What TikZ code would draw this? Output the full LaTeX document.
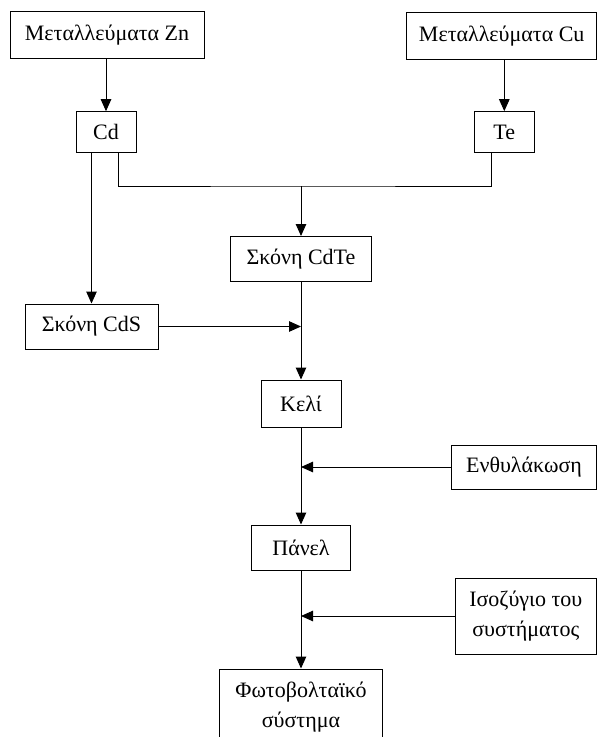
\documentclass[tikz,border=0pt]{standalone}
\usepackage{fontspec}
\setmainfont{Liberation Serif}
\usetikzlibrary{arrows.meta}

\begin{document}
\begin{tikzpicture}[x=1pt,y=-1pt,
			line width=1pt,
			>={Triangle[length=12pt,width=10.5pt]},
			box/.style={draw,inner sep=0pt,align=center,minimum height=45pt}]
\fontsize{22}{30}\selectfont
\useasboundingbox (0,0) rectangle (597,737);
%% raw materials
\node[box,minimum width=194pt,minimum height=46.6pt] (Zn) at (107,35) {Μεταλλεύματα Zn};
\node[box,minimum width=189.5pt,minimum height=46.6pt] (Cu) at (501.7,36) {Μεταλλεύματα Cu};
\node[box,minimum width=60pt,minimum height=40.6pt] (Cd) at (106,132) {Cd};
\node[box,minimum width=60pt,minimum height=40.6pt] (Te) at (504.3,132) {Te};
%% main line
\node[box,minimum width=141pt] (CdTe) at (301,259) {Σκόνη CdTe};
\node[box,minimum width=133pt] (CdS) at (91.5,326.5) {Σκόνη CdS};
\node[box,minimum width=80pt,minimum height=47pt] (Keli) at (301,403.5) {Κελί};
\node[box,minimum width=145pt,minimum height=44pt] (Encap) at (524,467) {Ενθυλάκωση};
\node[box,minimum width=99.6pt] (Panel) at (301,547.5) {Πάνελ};
\node[box,minimum width=141.5pt,minimum height=76pt] (Bal) at (525.8,616) {Ισοζύγιο του\\συστήματος};
\node[box,minimum width=162.6pt,minimum height=76pt] (PV) at (301,707) {Φωτοβολταϊκό\\σύστημα};
\coordinate (J) at (301,186);

\draw[->] (Cd.north |- Zn.south) -- (Cd.north);
\draw[->] (Te.north |- Cu.south) -- (Te.north);
\draw ([xshift=12pt]Cd.south) |- (J) -| ([xshift=-12.6pt]Te.south);
\draw[->] (J) -- (CdTe.north);
\draw[->] (Cd.south -| CdS.north) -- (CdS.north);
\draw[->] (CdS.east) -- (CdS.east -| CdTe.south);
\draw[->] (CdTe.south) -- (Keli.north);
\draw[->] (Encap.west) -- (Encap.west -| Keli.south);
\draw[->] (Keli.south) -- (Panel.north);
\draw[->] (Bal.west) -- (Bal.west -| Panel.south);
\draw[->] (Panel.south) -- (PV.north);
\end{tikzpicture}
\end{document}
